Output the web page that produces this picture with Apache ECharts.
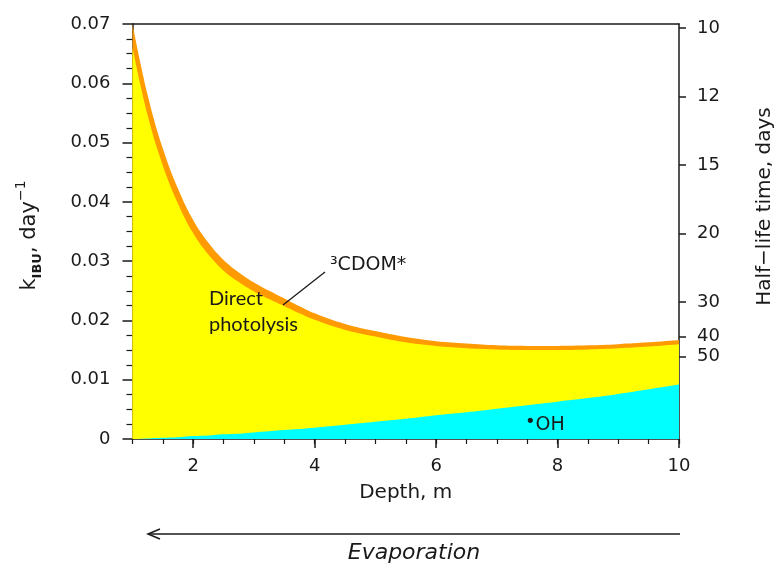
<!DOCTYPE html>
<html>
<head>
<meta charset="utf-8">
<script src="https://cdn.jsdelivr.net/npm/echarts@6/dist/echarts.min.js"></script>
<style>
html,body{margin:0;padding:0;background:#fff;}
#chart{width:783px;height:566px;}
</style>
</head>
<body>
<div id="chart"></div>
<script>
// Depth, m
var depths = [1.0, 1.25, 1.5, 1.75, 2.0, 2.25, 2.5, 2.75, 3.0, 3.25, 3.5, 3.75, 4.0, 4.5, 5.0, 5.5, 6.0, 6.5, 7.0, 7.5, 8.0, 8.5, 9.0, 9.5, 10.0];
// k contributions, day^-1
var ohValues     = [0.0000, 0.0001, 0.0002, 0.0003, 0.0005, 0.0006, 0.0008, 0.0009, 0.0011, 0.0013, 0.0015, 0.0017, 0.0019, 0.0024, 0.0029, 0.0034, 0.0040, 0.0045, 0.0051, 0.0057, 0.0063, 0.0069, 0.0076, 0.0084, 0.0092];
var directValues = [0.0660, 0.0545, 0.0459, 0.0394, 0.0342, 0.0305, 0.0276, 0.0256, 0.0238, 0.0223, 0.0209, 0.0195, 0.0182, 0.0160, 0.0144, 0.0129, 0.0117, 0.0108, 0.0100, 0.0093, 0.0087, 0.0082, 0.0077, 0.0072, 0.0068];
var cdomValues   = [0.0040, 0.0034, 0.0029, 0.0025, 0.0022, 0.0020, 0.0018, 0.0016, 0.0015, 0.0014, 0.0013, 0.0012, 0.0011, 0.0010, 0.0009, 0.0009, 0.0008, 0.0008, 0.0007, 0.0007, 0.0007, 0.0007, 0.0007, 0.0007, 0.0007];
// tick labels
var depthMajorTicks = [2, 4, 6, 8, 10];
var halfLifeTicks = [10, 12, 15, 20, 30, 40, 50];

var FONT = 'DejaVu Sans';
var INK = '#1a1a1a';

// cumulative (stacked) levels built from the arrays above
var levelOH = depths.map(function (d, i) { return [d, ohValues[i]]; });
var levelDirect = depths.map(function (d, i) { return [d, ohValues[i] + directValues[i]]; });
var levelTotal = depths.map(function (d, i) { return [d, ohValues[i] + directValues[i] + cdomValues[i]]; });
var halfLifeK = halfLifeTicks.map(function (t) { return Math.LN2 / t; });

var chart = echarts.init(document.getElementById('chart'), null, {renderer: 'canvas'});

var areaSeries = function (name, data, color) {
  return {
    name: name, type: 'line', data: data,
    symbol: 'none', smooth: 0.4,
    lineStyle: {width: 0, color: color},
    areaStyle: {color: color, opacity: 1, origin: 'start'},
    itemStyle: {color: color},
    silent: true, animation: false
  };
};

chart.setOption({
  animation: false,
  grid: {left: 132.5, right: 102, top: 24, bottom: 127, containLabel: false},
  xAxis: [
    {
      type: 'value', min: 1, max: 10, interval: 0.5, position: 'bottom',
      axisLine: {show: true, onZero: false, lineStyle: {color: INK, width: 1.5}},
      axisTick: {show: true, length: 5, lineStyle: {color: INK, width: 1.2}},
      axisLabel: {show: false},
      splitLine: {show: false}
    },
    {
      type: 'value', min: 1, max: 10, position: 'bottom',
      axisLine: {show: false, onZero: false},
      axisTick: {show: true, length: 9, customValues: depthMajorTicks, lineStyle: {color: INK, width: 1.5}},
      axisLabel: {show: true, customValues: depthMajorTicks, margin: 18, fontFamily: FONT, fontSize: 18, color: INK},
      splitLine: {show: false},
      name: 'Depth, m', nameLocation: 'middle', nameGap: 44,
      nameTextStyle: {fontFamily: FONT, fontSize: 20, color: INK}
    },
    {
      type: 'value', min: 1, max: 10, position: 'top',
      axisLine: {show: true, onZero: false, lineStyle: {color: INK, width: 1.5}},
      axisTick: {show: false}, axisLabel: {show: false}, splitLine: {show: false}
    }
  ],
  yAxis: [
    {
      type: 'value', min: 0, max: 0.07, interval: 0.01, position: 'left',
      axisLine: {show: true, onZero: false, lineStyle: {color: INK, width: 1.5}},
      axisTick: {show: true, length: 10, lineStyle: {color: INK, width: 1.5}},
      minorTick: {show: true, splitNumber: 4, length: 6, lineStyle: {color: INK, width: 1.2}},
      axisLabel: {
        margin: 22, fontFamily: FONT, fontSize: 18, color: INK,
        formatter: function (v) { return v === 0 ? '0' : v.toFixed(2); }
      },
      splitLine: {show: false},
      name: '{n|k}{sub|IBU}{n|, day}{sup|\u22121}',
      nameLocation: 'middle', nameRotate: 90, nameGap: 88,
      nameTextStyle: {
        padding: [0, 8, 0, 0],
        rich: {
          n: {fontFamily: FONT, fontSize: 21, lineHeight: 30, color: INK},
          sub: {fontFamily: FONT, fontSize: 13, lineHeight: 15, verticalAlign: 'bottom', color: INK, fontWeight: 'bold'},
          sup: {fontFamily: FONT, fontSize: 14, lineHeight: 15, verticalAlign: 'top', color: INK}
        }
      }
    },
    {
      type: 'value', min: 0, max: 0.07, position: 'right',
      axisLine: {show: true, onZero: false, lineStyle: {color: INK, width: 1.5}},
      axisTick: {show: true, length: 7, customValues: halfLifeK, lineStyle: {color: INK, width: 1.5}},
      axisLabel: {
        show: true, customValues: halfLifeK, margin: 18, fontFamily: FONT, fontSize: 18, color: INK,
        formatter: function (v) { return String(Math.round(Math.LN2 / v)); }
      },
      splitLine: {show: false},
      name: 'Half\u2212life time, days', nameLocation: 'middle', nameRotate: 90, nameGap: 76,
      nameTextStyle: {fontFamily: FONT, fontSize: 20, color: INK, padding: [0, 0, 0, 50]}
    }
  ],
  series: [
    areaSeries('3CDOM*', levelTotal, '#FF9A00'),
    areaSeries('Direct photolysis', levelDirect, '#FFFF00'),
    areaSeries('OH', levelOH, '#00FFFF')
  ],
  graphic: [
    {type: 'text', left: 209, top: 286, z: 100, silent: true,
     style: {text: 'Direct\nphotolysis', fontFamily: 'Lato', fontSize: 20, lineHeight: 26, fill: INK}},
    {type: 'line', z: 100, silent: true, shape: {x1: 283, y1: 305, x2: 325, y2: 272}, style: {stroke: INK, lineWidth: 1.3}},
    {type: 'text', left: 330, top: 256, z: 100, silent: true,
     style: {text: '\u00B3CDOM*', fontFamily: FONT, fontSize: 19, fill: INK}},
    {type: 'text', left: 525, top: 413, z: 100, silent: true,
     style: {text: '{d|\u2022}{t|OH}', rich: {
       d: {fontFamily: FONT, fontSize: 18, lineHeight: 12, verticalAlign: 'top', fill: INK},
       t: {fontFamily: FONT, fontSize: 19, lineHeight: 24, fill: INK}
     }}},
    {type: 'line', z: 100, silent: true, shape: {x1: 148, y1: 534, x2: 680, y2: 534}, style: {stroke: INK, lineWidth: 1.5}},
    {type: 'polyline', z: 100, silent: true, shape: {points: [[160, 529], [148, 534], [160, 539]]}, style: {stroke: INK, lineWidth: 1.5, fill: null}},
    {type: 'text', x: 414, y: 553, z: 100, silent: true,
     style: {text: 'Evaporation', fontFamily: FONT, fontStyle: 'italic', fontSize: 22, fill: INK, align: 'center', verticalAlign: 'middle'}}
  ]
});
</script>
</body>
</html>
